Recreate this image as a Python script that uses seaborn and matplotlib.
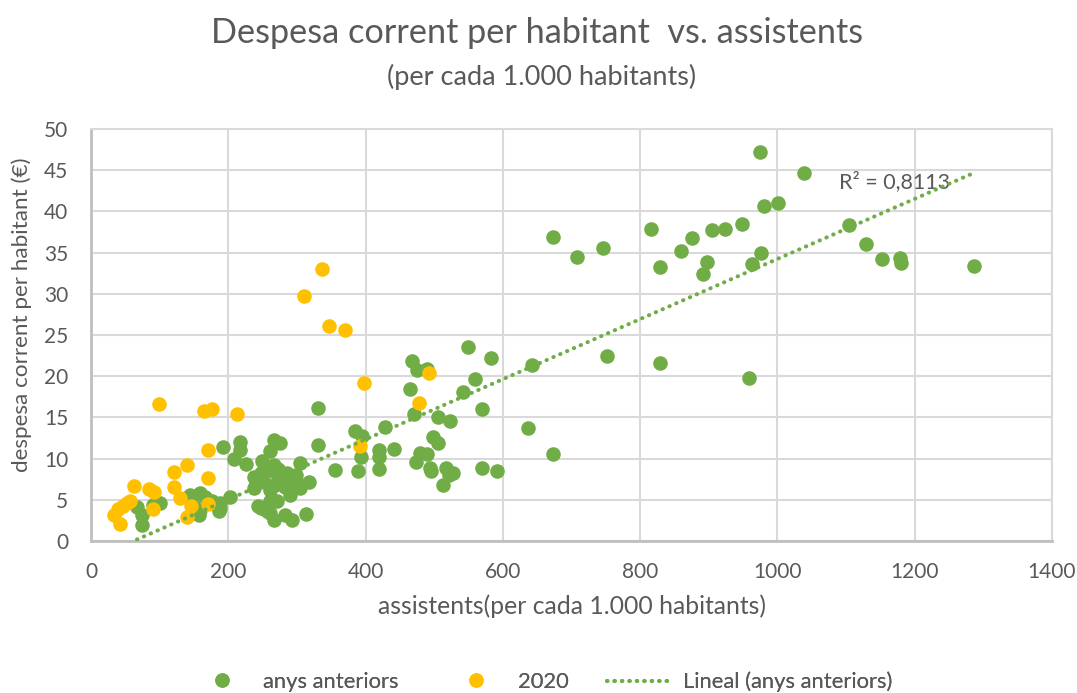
"""Despesa corrent per habitant vs. assistents (diagrama de dispersió)."""

import matplotlib.pyplot as plt
from matplotlib.lines import Line2D
import pandas as pd
import seaborn as sns

# Anys anteriors (verd)
ant_x = [67, 74, 74, 91, 101, 144, 159, 166, 149, 159, 157, 176, 188, 183, 186, 188,
         193, 202, 208, 217, 217, 226, 237, 237, 244, 247, 247, 249, 256, 259, 261,
         261, 261, 266, 266, 266, 276, 261, 271, 273, 283, 283, 286, 290, 293, 293,
         305, 305, 313, 317, 330, 330, 356, 385, 389, 393, 395, 419, 420, 420, 429,
         442, 465, 467, 470, 473, 475, 480, 489, 490, 494, 496, 498, 505, 505, 513,
         517, 522, 528, 523, 542, 549, 559, 570, 570, 582, 591, 636, 642, 673, 673,
         708, 746, 751, 816, 829, 829, 860, 876, 892, 898, 905, 924, 948, 958, 963,
         974, 976, 981, 1001, 1039, 1104, 1129, 1153, 1179, 1180, 1287,
         252, 268, 278, 298, 300, 272, 240]
ant_y = [4.1, 3.2, 1.9, 4.4, 4.6, 5.6, 5.8, 5.4, 4.4, 3.8, 3.2, 4.8, 4.6, 4.2, 3.6, 4.0,
         11.4, 5.3, 10.0, 12.0, 11.0, 9.3, 7.8, 6.4, 4.2, 8.2, 4.0, 9.7, 3.6, 8.6, 6.2,
         4.8, 3.4, 9.2, 2.5, 12.3, 11.9, 10.9, 4.8, 7.8, 6.6, 3.2, 8.2, 5.6, 7.4, 2.5,
         9.5, 6.4, 3.3, 7.2, 16.2, 11.7, 8.6, 13.4, 8.5, 10.2, 12.7, 8.7, 11.0, 10.2, 13.8,
         11.2, 18.4, 21.8, 15.4, 9.6, 20.8, 10.7, 20.9, 10.6, 8.9, 8.5, 12.6, 11.9, 15.1, 6.8,
         8.9, 8.0, 8.2, 14.6, 18.1, 23.5, 19.7, 16.0, 8.9, 22.2, 8.5, 13.7, 21.3, 10.5, 36.9,
         34.5, 35.6, 22.4, 37.9, 33.3, 21.6, 35.2, 36.8, 32.4, 33.8, 37.7, 37.9, 38.5, 19.8, 33.6,
         47.2, 35.0, 40.7, 41.0, 44.6, 38.3, 36.1, 34.2, 34.3, 33.7, 33.4,
         7.2, 6.8, 7.0, 8.0, 7.0, 8.8, 7.2]

# 2020 (groc)
y2020_x = [33, 40, 42, 47, 52, 57, 62, 84, 90, 92, 99, 121, 121, 129, 140, 140, 145,
           165, 170, 171, 171, 176, 212, 310, 336, 346, 370, 392, 398, 478, 493]
y2020_y = [3.2, 3.9, 2.1, 4.2, 4.6, 4.8, 6.7, 6.3, 3.9, 5.9, 16.6, 8.4, 6.5, 5.2, 9.2, 2.9, 4.2,
           15.8, 7.6, 11.0, 4.5, 16.0, 15.4, 29.7, 33.0, 26.1, 25.6, 11.5, 19.2, 16.7, 20.4]

x_ticks = [0, 200, 400, 600, 800, 1000, 1200, 1400]
y_ticks = [0, 5, 10, 15, 20, 25, 30, 35, 40, 45, 50]

VERD = "#70AD47"
GROC = "#FFC000"
GRIS = "#595959"
GRIS_GRID = "#D9D9D9"
PUNTS = (0, (0.1, 1.75))

anteriors = pd.DataFrame({"assistents": ant_x, "despesa": ant_y})
any2020 = pd.DataFrame({"assistents": y2020_x, "despesa": y2020_y})

sns.set_theme(style="white")
plt.rcParams["font.family"] = ["Lato", "DejaVu Sans"]

fig = plt.figure(figsize=(10.77, 6.93), dpi=100)
ax = fig.add_axes([0.0845, 0.2193, 0.8923, 0.5946])

sns.scatterplot(data=anteriors, x="assistents", y="despesa", ax=ax, color=VERD,
                s=110, linewidth=0, zorder=3)
sns.scatterplot(data=any2020, x="assistents", y="despesa", ax=ax, color=GROC,
                s=110, linewidth=0, zorder=4)
# línia de tendència lineal (anys anteriors)
sns.regplot(data=anteriors, x="assistents", y="despesa", ax=ax, scatter=False,
            ci=None, truncate=True, color=VERD,
            line_kws=dict(lw=2.9, ls=PUNTS, dash_capstyle="round", zorder=5))

ax.set_xlim(0, 1400)
ax.set_ylim(0, 50)
ax.set_xticks(x_ticks)
ax.set_yticks(y_ticks)
ax.grid(True, color=GRIS_GRID, lw=1.5)
ax.set_axisbelow(True)
ax.tick_params(axis="both", labelsize=15, colors=GRIS, length=0)
ax.tick_params(axis="x", pad=15)
ax.tick_params(axis="y", pad=16.5)
for side in ["top", "right"]:
    ax.spines[side].set_color(GRIS_GRID)
    ax.spines[side].set_linewidth(1.5)
for side in ["left", "bottom"]:
    ax.spines[side].set_color("#BFBFBF")
    ax.spines[side].set_linewidth(2)

ax.set_xlabel("assistents(per cada 1.000 habitants)", fontsize=17.8, color=GRIS, labelpad=9)
ax.set_ylabel("despesa corrent per habitant (€)", fontsize=16.2, color=GRIS)
ax.yaxis.set_label_coords(-0.0614, 0.55)

ax.text(1090, 43.6, "R² = 0,8113", fontsize=15.5, color=GRIS, ha="left", va="center")

fig.text(0.499, 0.953, "Despesa corrent per habitant  vs. assistents",
         fontsize=24.7, color=GRIS, ha="center", va="center")
fig.text(0.503, 0.889, "(per cada 1.000 habitants)", fontsize=19.5,
         color=GRIS, ha="center", va="center")

# llegenda: tres entrades col·locades com a l'original
entrades = [
    (Line2D([], [], marker="o", ls="", color=VERD, markersize=9.4), "anys anteriors",
     211 / 1077, 1.0, 1.37),
    (Line2D([], [], marker="o", ls="", color=GROC, markersize=9.4), "2020",
     465.5 / 1077, 1.0, 1.39),
    (Line2D([], [], color=VERD, lw=2.9, ls=PUNTS, dash_capstyle="round"),
     "Lineal (anys anteriors)", 607 / 1077, 3.0, 0.46),
]
for handle, label, x0, hlen, tpad in entrades:
    leg = fig.legend([handle], [label], loc="center left", bbox_to_anchor=(x0, 0.016),
                     frameon=False, fontsize=15.8, labelcolor=GRIS, borderpad=0,
                     borderaxespad=0, handlelength=hlen, handletextpad=tpad)
    fig.add_artist(leg)

fig.savefig("out.png", dpi=100)
